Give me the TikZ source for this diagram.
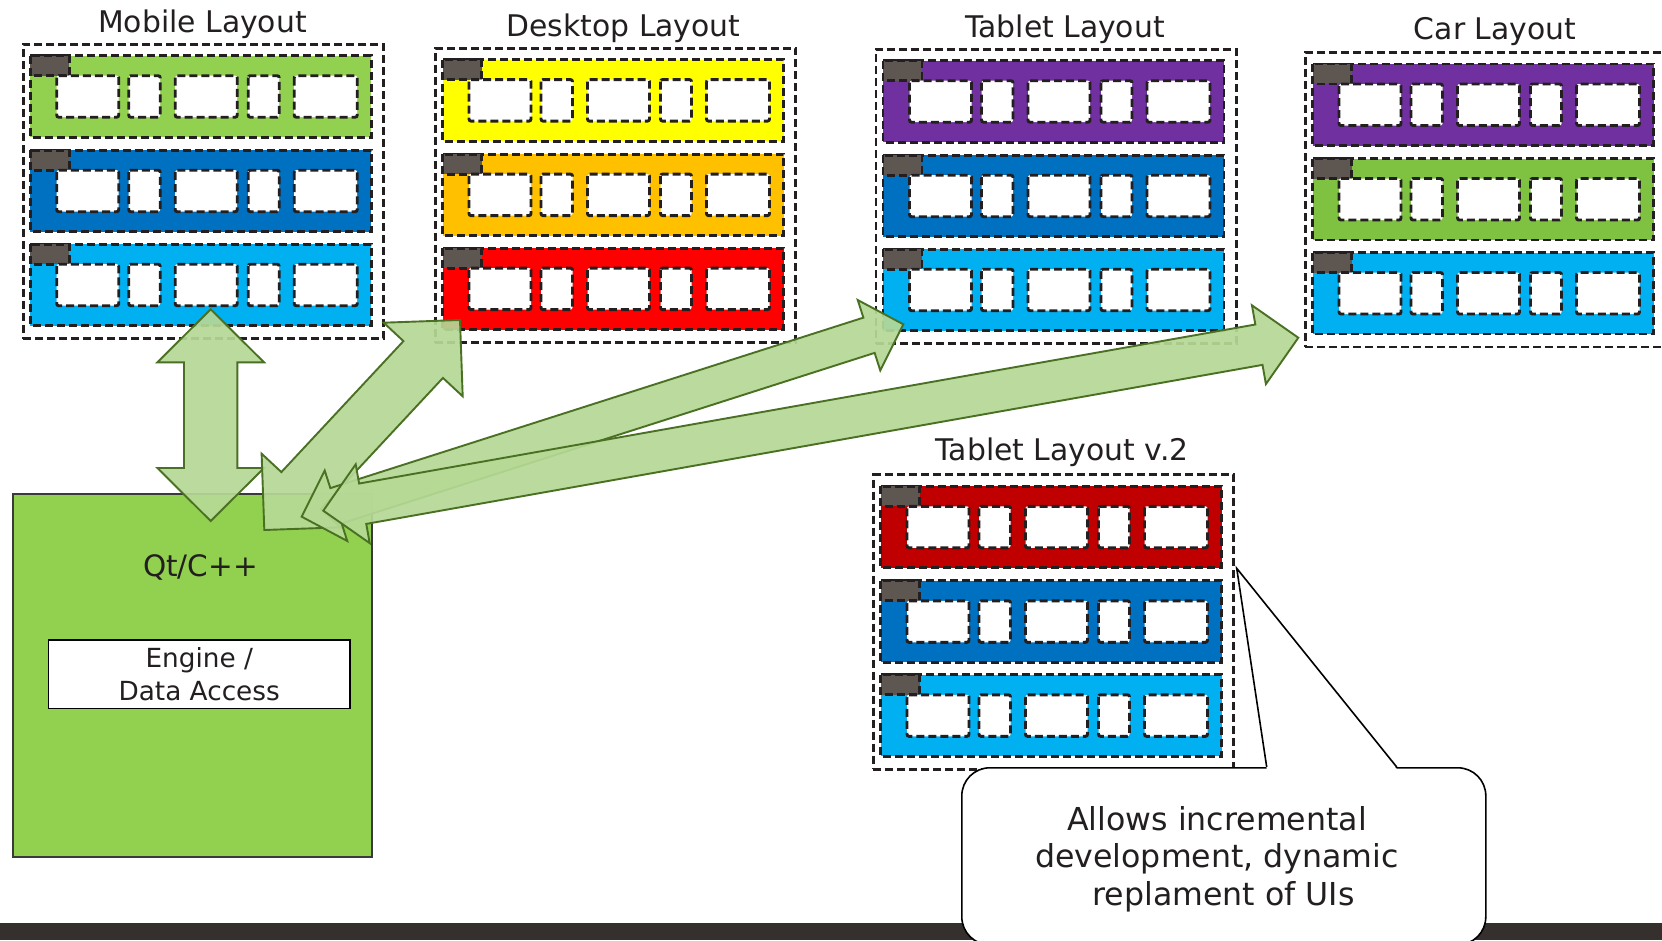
\documentclass[tikz,border=0pt]{standalone}
\usepackage{fontspec}
\setmainfont{DejaVu Sans}
\usetikzlibrary{calc}
\definecolor{cgreen}{HTML}{92D050}
\definecolor{ccargreen}{HTML}{7FC241}
\definecolor{cblue}{HTML}{0070C0}
\definecolor{clblue}{HTML}{00B0F0}
\definecolor{cyellow}{HTML}{FFFF00}
\definecolor{corange}{HTML}{FFC000}
\definecolor{cred}{HTML}{FF0000}
\definecolor{cpurple}{HTML}{7030A0}
\definecolor{cdarkred}{HTML}{C00000}
\definecolor{ctab}{HTML}{5E5650}
\definecolor{cdash}{HTML}{231F20}
\definecolor{ctext}{HTML}{231F20}
\definecolor{arrowfill}{HTML}{B6D996}
\definecolor{arrowline}{HTML}{4A7023}
\definecolor{footerc}{HTML}{35302D}
\definecolor{qtline}{HTML}{3A3A3A}
\tikzset{
  dashline/.style={draw=cdash, line width=2.9pt, dash pattern=on 8pt off 4pt},
  panelbox/.style={dashline, fill=white, inner sep=0pt, minimum width=360.3pt, minimum height=294.5pt, anchor=north west},
  rowbox/.style={dashline},
  tabbox/.style={dashline, fill=ctab},
  slotbox/.style={dashline, fill=white, rounded corners=2pt},
  titletext/.style={font=\fontsize{29.8}{35}\selectfont, text=ctext, anchor=base, inner sep=0pt},
  barrow/.style={fill=arrowfill, fill opacity=0.92, draw=arrowline, line width=1.9pt, line join=miter},
  qtbox/.style={draw=qtline, line width=2pt, fill=cgreen, inner sep=0pt, anchor=north west},
  enginebox/.style={draw=black, line width=1.6pt, fill=white, inner sep=0pt, align=center,
     font=\fontsize{26.3}{32.7}\selectfont, text=ctext},
  calloutbox/.style={draw=black, line width=1.6pt, fill=white, rounded corners=28pt, inner sep=0pt, anchor=north west},
  callouttext/.style={font=\fontsize{31.6}{37.5}\selectfont, text=ctext, align=center, inner sep=0pt}
}
\newcommand\layoutrow[3]{%
  \begin{scope}[shift={({#1},{#2})}]
    \filldraw[rowbox, fill=#3] (0,0) rectangle (341,81.5);
    \filldraw[tabbox] (0,0) rectangle (39,20);
    \foreach \a/\b in {26.5/88.5, 98.5/130, 145/207, 218/249, 264/327}
      \filldraw[slotbox] (\a,20) rectangle (\b,61.5);
  \end{scope}}
\newcommand\layoutpanel[6]{%
  \node[panelbox] (#1) at ({#2},{#3}) {};
  \layoutrow{#2+8.5}{#3+13}{#4}
  \layoutrow{#2+8.5}{#3+107.5}{#5}
  \layoutrow{#2+8.5}{#3+201.5}{#6}}
\newcommand\blockarrow[5]{%
  \coordinate (bapa) at ($(#1)!#3!(#2)$);
  \coordinate (bapb) at ($(#2)!#3!(#1)$);
  \draw[barrow] (#1)
    -- ($(bapa)!#4!90:(#2)$)
    -- ($(bapa)!#5!90:(#2)$)
    -- ($(bapb)!#5!-90:(#1)$)
    -- ($(bapb)!#4!-90:(#1)$)
    -- (#2)
    -- ($(bapb)!#4!90:(#1)$)
    -- ($(bapb)!#5!90:(#1)$)
    -- ($(bapa)!#5!-90:(#2)$)
    -- ($(bapa)!#4!-90:(#2)$)
    -- cycle;}
\begin{document}
\begin{tikzpicture}[x=1pt,y=-1pt]
\useasboundingbox (0,0) rectangle (1662,940);
\clip (0,0) rectangle (1662,940);
\fill[white] (0,0) rectangle (1662,940);

% footer bar
\fill[footerc] (0,922.7) rectangle (1662,940);

% layout panels
\layoutpanel{mobile}{21.7}{42.7}{cgreen}{cblue}{clblue}
\node[titletext] (mobiletitle) at (202.5,32.3) {Mobile Layout};
\layoutpanel{desktop}{434}{46.6}{cyellow}{corange}{cred}
\node[titletext] (desktoptitle) at (623.5,36.2) {Desktop Layout};
\layoutpanel{tablet}{874.5}{47.7}{cpurple}{cblue}{clblue}
\node[titletext] (tablettitle) at (1065,37.3) {Tablet Layout};
\layoutpanel{car}{1304}{51}{cpurple}{ccargreen}{clblue}
\node[titletext] (cartitle) at (1495,39.5) {Car Layout};
\layoutpanel{tabletv}{872}{473.3}{cdarkred}{cblue}{clblue}
\node[titletext] (tabletvtitle) at (1062,460) {Tablet Layout v.2};

% Qt box
\node[qtbox, minimum width=358.4pt, minimum height=363.3pt] (qt) at (12.3,492.7) {};
\node[font=\fontsize{29.5}{34}\selectfont, text=ctext, anchor=base, inner sep=0pt] (qtlabel) at (200.5,576.7) {Qt/C++};
\node[enginebox, minimum width=301.7pt, minimum height=68.3pt] (engine) at (199.2,674.2) {Engine /\\Data Access};

% arrow end points
\coordinate (mobA) at (210.7,309.3);
\coordinate (mobB) at (210.7,521);
\coordinate (deskA) at (460,320);
\coordinate (deskB) at (264.3,530);
\coordinate (tabA) at (903.3,324.3);
\coordinate (tabB) at (301.7,516.7);
\coordinate (carA) at (1298.3,337.7);
\coordinate (carB) at (323.3,510.7);

\blockarrow{mobA}{mobB}{53pt}{53.3pt}{26.7pt}
\blockarrow{deskA}{deskB}{54pt}{54pt}{27pt}
\blockarrow{tabA}{tabB}{36pt}{37pt}{18.5pt}
\blockarrow{carA}{carB}{40pt}{40pt}{20.5pt}

% callout
\node[calloutbox, minimum width=524pt, minimum height=177pt] (callout) at (961,767) {};
\coordinate (ptrL) at (1266.7,767);
\coordinate (ptrTip) at (1236.7,568.3);
\coordinate (ptrR) at (1396.7,767);
\fill[white] ($(ptrL)+(0,2)$) -- (ptrTip) -- ($(ptrR)+(0,2)$) -- cycle;
\draw[line width=1.6pt, line join=miter] (ptrL) -- (ptrTip) -- (ptrR);
\node[callouttext] (callouttxt) at (1217,859) {Allows incremental\\development, dynamic\\\hspace*{13pt}replament of UIs};
\end{tikzpicture}
\end{document}
